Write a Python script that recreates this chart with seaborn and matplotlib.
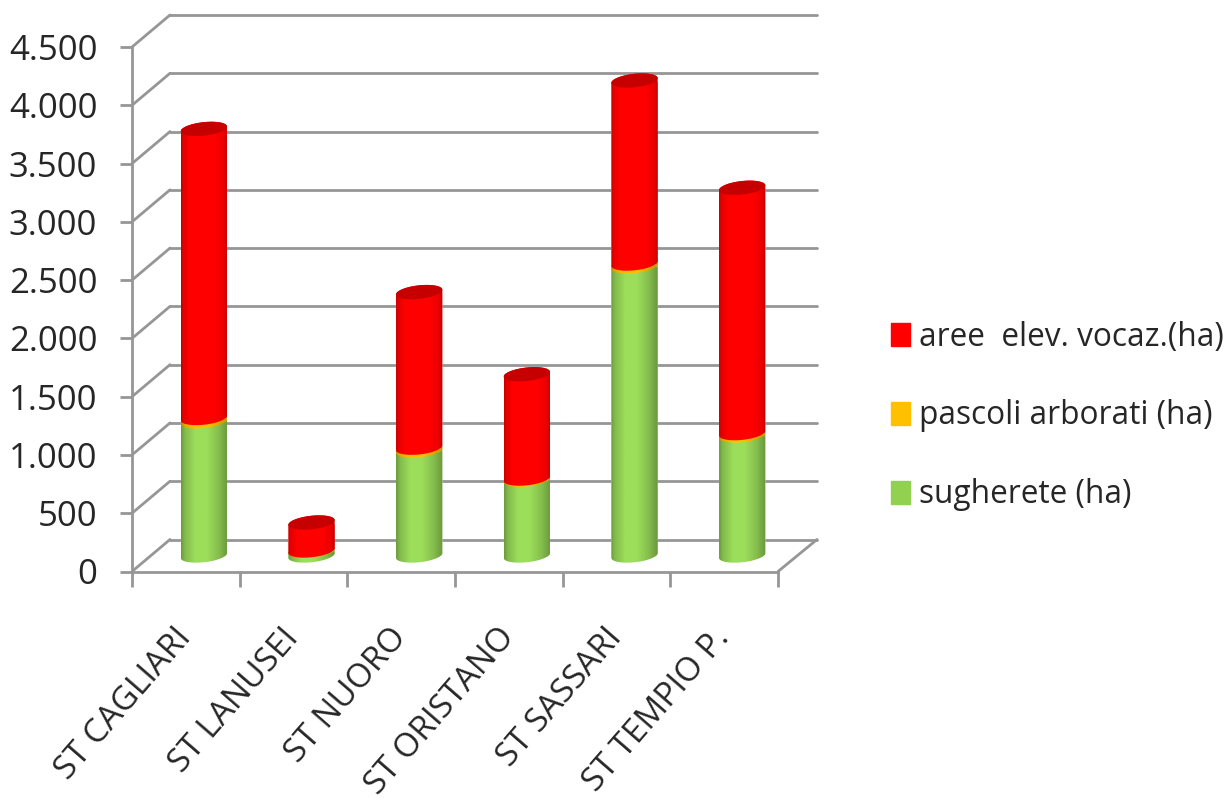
import matplotlib
matplotlib.use('Agg')
import matplotlib.pyplot as plt
import matplotlib.patches as patches
import numpy as np
import seaborn as sns

categories = ['ST CAGLIARI', 'ST LANUSEI', 'ST NUORO', 'ST ORISTANO', 'ST SASSARI', 'ST TEMPIO P.']
sugherete = [1150, 40, 900, 650, 2480, 1030]
pascoli = [30, 3, 25, 10, 25, 20]
aree = [2480, 240, 1335, 895, 1570, 2105]
series_names = ['sugherete (ha)', 'pascoli arborati (ha)', 'aree  elev. vocaz.(ha)']
y_ticks = [0, 500, 1000, 1500, 2000, 2500, 3000, 3500, 4000, 4500]
y_labels = ['0', '500', '1.000', '1.500', '2.000', '2.500', '3.000', '3.500', '4.000', '4.500']

legend_colors = ['#92D050', '#FFC000', '#FF0000']
body_colors = ['#9CDE5A', '#FFC000', '#FF0000']
grid_color = '#969696'
top_color = '#C60000'

W, H = 1229, 808
sns.set_theme(style='white')
plt.rcParams['font.family'] = ['Open Sans', 'DejaVu Sans']
text_color = '#262626'


def px_axes(fig, left, right, y_bottom, y_top, **kw):
    # axes placed from pixel positions of the reference
    return fig.add_axes([left / W, (H - y_bottom) / H, (right - left) / W, (y_bottom - y_top) / H], **kw)


fig = plt.figure(figsize=(W / 100, H / 100), dpi=100, facecolor='white')
ax_back = px_axes(fig, 170, 817, 539.5, 15, zorder=0)     # back wall
ax = px_axes(fig, 132, 778, 571.5, 47, zorder=1)           # front plane, holds the scales
ax_bars = px_axes(fig, 150, 796, 555.5, 31, zorder=2)      # plane the cylinders stand on

n = len(categories)
for a in (ax, ax_back, ax_bars):
    a.set_xlim(-0.5, n - 0.5)
    a.set_ylim(0, 4500)
    a.patch.set_alpha(0)

# back wall gridlines
ax_back.set_xticks([])
ax_back.set_yticks(y_ticks)
ax_back.tick_params(left=False, labelleft=False)
for s in ax_back.spines.values():
    s.set_visible(False)
ax_back.grid(axis='y', color=grid_color, lw=2)
for line in ax_back.get_ygridlines():
    line.set_clip_on(False)

# side wall and floor diagonals
for v in y_ticks:
    ax_back.add_artist(patches.ConnectionPatch((-0.5, v), (-0.5, v), 'data', 'data', axesA=ax, axesB=ax_back,
                                               color=grid_color, lw=2))
ax_back.add_artist(patches.ConnectionPatch((n - 0.5, 0), (n - 0.5, 0), 'data', 'data', axesA=ax, axesB=ax_back,
                                           color=grid_color, lw=2))

# front axes
for name in ('top', 'right'):
    ax.spines[name].set_visible(False)
for name in ('left', 'bottom'):
    ax.spines[name].set_color(grid_color)
    ax.spines[name].set_linewidth(2)
ax.set_yticks(y_ticks, y_labels)
ax.tick_params(axis='y', left=True, length=9, width=2, color=grid_color, labelsize=25, labelcolor=text_color, pad=16)
ax.set_xticks(range(n), categories)
ax.set_xticks(np.arange(n + 1) - 0.5, minor=True)
ax.tick_params(axis='x', which='major', length=0, pad=44)
ax.tick_params(axis='x', which='minor', bottom=True, length=11, width=2, color=grid_color)
for lab in ax.get_xticklabels():
    lab.set_rotation(49)
    lab.set_rotation_mode('anchor')
    lab.set_ha('right')
    lab.set_va('center')
    lab.set_fontsize(24)
    lab.set_color(text_color)

# cylinders
bar_width = 0.43
half_h = 58      # ellipse half height, in data units
tilt = 0.35      # rise of the ellipse across the half width, in half_h units
shade_x = [[0, 0.08, 0.3, 0.55, 0.8, 1], [0, 0.08, 0.3, 0.55, 0.8, 1], [0, 0.05, 0.2, 0.7, 0.92, 1]]
shade_y = [[0.70, 0.84, 1, 1, 0.86, 0.68], [0.75, 0.88, 1, 1, 0.88, 0.75], [0.78, 0.9, 1, 1, 0.92, 0.75]]


def ellipse_edge(cx, base, t):
    return cx + bar_width / 2 * np.cos(t), base + half_h * (np.sin(t) + tilt * np.cos(t))


bottoms = np.zeros(n)
stack = [sugherete, pascoli, aree]
for k, values in enumerate(stack):
    values = np.array(values)
    before = len(ax_bars.patches)
    sns.barplot(x=categories, y=values, bottom=bottoms, color=body_colors[k], width=bar_width,
                saturation=1, ax=ax_bars, zorder=2 + k)
    rgb = np.array(matplotlib.colors.to_rgb(body_colors[k]))
    ramp = np.interp(np.linspace(0, 1, 64), shade_x[k], shade_y[k])
    image = (ramp[:, None] * rgb)[None, :, :]
    for i, bar in enumerate(ax_bars.patches[before:]):
        cx = bar.get_x() + bar.get_width() / 2
        lo, hi = bottoms[i], bottoms[i] + values[i]
        t_low = np.linspace(np.pi, 2 * np.pi, 50)
        t_up = np.linspace(0, np.pi, 50)
        x_low, y_low = ellipse_edge(cx, lo, t_low)
        x_up, y_up = ellipse_edge(cx, hi, t_up)
        outline = patches.Polygon(np.r_[np.c_[x_low, y_low], np.c_[x_up, y_up]], closed=True,
                                  transform=ax_bars.transData, fc='none', ec='none')
        ax_bars.add_patch(outline)
        bar.set_clip_path(outline)
        im = ax_bars.imshow(image, extent=(cx - bar_width / 2, cx + bar_width / 2, lo - 2 * half_h, hi + 2 * half_h),
                            aspect='auto', zorder=2 + k, interpolation='bilinear')
        im.set_clip_path(outline)
        # the curved base hangs below y=0, so the axes box must not cut it
        im.set_clip_box(fig.bbox)
        bar.set_clip_box(fig.bbox)
        if k == len(stack) - 1:
            t = np.linspace(0, 2 * np.pi, 100)
            x_top, y_top = ellipse_edge(cx, hi, t)
            ax_bars.fill(x_top, y_top, color=top_color, lw=0, zorder=3 + k)
    bottoms = bottoms + values

ax_bars.set_xlim(-0.5, n - 0.5)
ax_bars.set_ylim(0, 4500)
ax_bars.axis('off')

# legend
handles = [patches.Patch(color=c) for c in legend_colors[::-1]]
fig.legend(handles, series_names[::-1], loc='center left', bbox_to_anchor=(891 / W, 1 - 416 / H), frameon=False,
           fontsize=22.8, labelcolor=text_color, handlelength=0.6, handleheight=0.75, handletextpad=0.28,
           labelspacing=1.45, borderpad=0, borderaxespad=0)

fig.savefig('out.png', dpi=100)
